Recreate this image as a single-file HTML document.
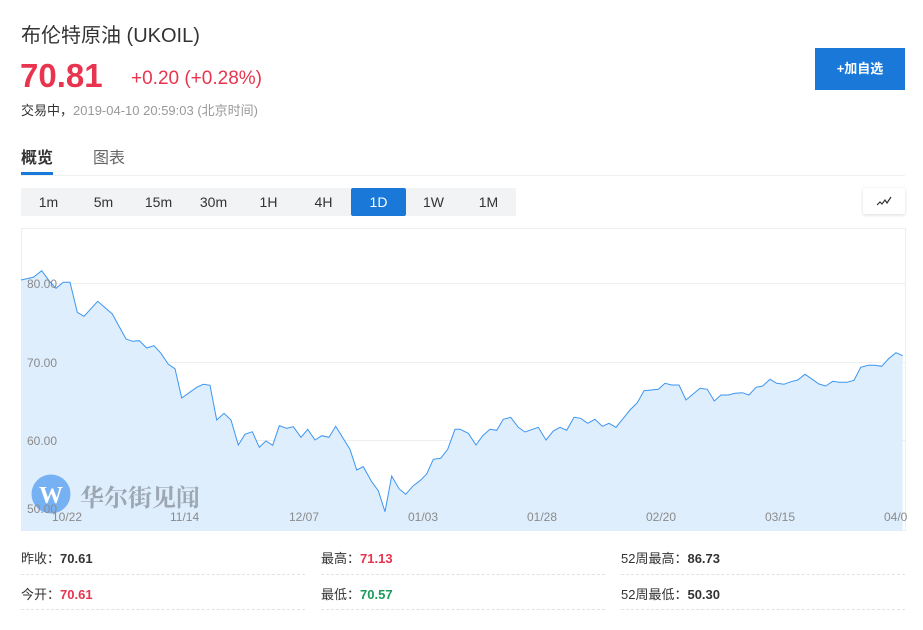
<!DOCTYPE html>
<html><head><meta charset="utf-8">
<style>
*{margin:0;padding:0;box-sizing:border-box}
body{width:923px;height:630px;background:#fff;position:relative;overflow:hidden;font-family:"Liberation Sans","Noto Sans CJK SC",sans-serif;color:#333}
.a{position:absolute;white-space:nowrap}
.tf{position:absolute;top:188px;height:28px;width:55px;background:#f2f3f5;font-size:14px;color:#333;text-align:center;line-height:28px}
.lab{font-size:13px;color:#333}
.lab b{font-weight:bold}
.dash{position:absolute;height:0;border-top:1px dashed #e2e2e2}
</style></head><body>
<div class="a" style="left:21px;top:19px;font-size:20px;color:#333">布伦特原油 (UKOIL)</div>
<div class="a" style="left:20px;top:57px;font-size:33px;font-weight:bold;color:#e8344e">70.81</div>
<div class="a" style="left:131px;top:68px;font-size:19px;color:#e8344e">+0.20 (+0.28%)</div>
<div class="a" style="left:21px;top:100px;font-size:13px;color:#333">交易中，<span style="color:#999">2019-04-10 20:59:03 (北京时间)</span></div>
<div class="a" style="left:815px;top:48px;width:90px;height:42px;background:#1a78d8;color:#fff;font-size:13px;font-weight:bold;text-align:center;line-height:42px">+加自选</div>
<div class="a" style="left:21px;top:144px;font-size:16px;font-weight:bold;color:#333">概览</div>
<div class="a" style="left:93px;top:144px;font-size:16px;color:#666">图表</div>
<div class="a" style="left:21px;top:172px;width:32px;height:3px;background:#1a78d8"></div>
<div class="a" style="left:21px;top:175px;width:884px;height:1px;background:#eef0f2"></div>
<div class="tf" style="left:21px">1m</div>
<div class="tf" style="left:76px">5m</div>
<div class="tf" style="left:131px">15m</div>
<div class="tf" style="left:186px">30m</div>
<div class="tf" style="left:241px">1H</div>
<div class="tf" style="left:296px">4H</div>
<div class="tf" style="left:351px;background:#1a78d8;color:#fff;border-radius:2px">1D</div>
<div class="tf" style="left:406px">1W</div>
<div class="tf" style="left:461px">1M</div>
<div class="a" style="left:863px;top:188px;width:42px;height:26px;background:#fff;box-shadow:0 1px 3px rgba(0,0,0,0.15);border-radius:2px"></div>
<svg class="a" style="left:863px;top:188px" width="42" height="26"><polyline points="14,17 17,14 19,16 22,12 24,15 28,9" fill="none" stroke="#333" stroke-width="1.2"/></svg>

<svg class="a" style="left:0;top:0" width="923" height="540">
<rect x="21.5" y="228.5" width="884" height="302" fill="#fff" stroke="#eceef0"/>
<g stroke="#eceef0" stroke-width="1">
<line x1="21" y1="283.5" x2="905" y2="283.5"/>
<line x1="21" y1="362.5" x2="905" y2="362.5"/>
<line x1="21" y1="440.5" x2="905" y2="440.5"/>
</g>
<polygon fill="#dfeefd" points="21,531 21,280 33.3,277.3 41.7,270.7 49.3,281 56,288.3 63.3,282.3 70,282.3 77.3,312.3 84,316.3 97.7,301.3 112.3,314 126,339 132.7,341.3 139.3,340.7 146.7,348 154,345.7 161,353.3 168.3,364.3 175,368.7 181.7,398 188.3,393.3 196.7,387.3 203.3,384.3 210,385.3 216.7,420 224,413.3 231,420 238.3,445 245,434.3 252.3,431.7 259.3,447.3 266,441 272.7,445.3 279.3,425.7 286.7,428.3 293.3,426.7 301,437.3 307.7,429.3 315,440 321.7,435.7 329,437.3 335.7,426.3 350,449.3 356.7,470 363.3,466.7 371.7,481.7 378.3,490.7 385,511.7 391.7,476 399,488.7 405.7,494.3 413.3,485.7 420,480.7 426.7,474 433.3,459.3 440.7,458.3 447.7,449.3 455,429.3 460,429.3 468.3,433.3 476,445 482.7,435.7 490,429.3 496.7,430.3 503.3,419.3 510.7,417.3 518.3,427.3 525,432 538.3,427.3 546,440 553.3,431 560,427.3 566.7,430.3 574,417.3 580.7,418.3 587.7,423.3 595,419.3 602.3,426.3 609,423.3 616,427.3 623.3,418.3 630,410 637.3,402.7 644,390.7 658.3,389.3 665,383.3 671.7,385 679,385 686,400 700,388.3 707.3,389.3 714.3,401 721,395 728.3,395 735,393.3 742.3,392.7 749,395 756,387.3 762.7,386 770,379.3 776.7,383.3 784,384.3 791,381.7 797.7,380 805,374.3 819,384 825.7,386 832.7,381.3 839.3,382.3 846.7,382.3 854,380.3 860.7,367.3 868.3,365.3 875,365.3 881.7,366.3 889,358.3 896,352.7 902.7,355.7 902.7,531"/>
<polyline fill="none" stroke="#3d96f0" stroke-width="1" points="21,280 33.3,277.3 41.7,270.7 49.3,281 56,288.3 63.3,282.3 70,282.3 77.3,312.3 84,316.3 97.7,301.3 112.3,314 126,339 132.7,341.3 139.3,340.7 146.7,348 154,345.7 161,353.3 168.3,364.3 175,368.7 181.7,398 188.3,393.3 196.7,387.3 203.3,384.3 210,385.3 216.7,420 224,413.3 231,420 238.3,445 245,434.3 252.3,431.7 259.3,447.3 266,441 272.7,445.3 279.3,425.7 286.7,428.3 293.3,426.7 301,437.3 307.7,429.3 315,440 321.7,435.7 329,437.3 335.7,426.3 350,449.3 356.7,470 363.3,466.7 371.7,481.7 378.3,490.7 385,511.7 391.7,476 399,488.7 405.7,494.3 413.3,485.7 420,480.7 426.7,474 433.3,459.3 440.7,458.3 447.7,449.3 455,429.3 460,429.3 468.3,433.3 476,445 482.7,435.7 490,429.3 496.7,430.3 503.3,419.3 510.7,417.3 518.3,427.3 525,432 538.3,427.3 546,440 553.3,431 560,427.3 566.7,430.3 574,417.3 580.7,418.3 587.7,423.3 595,419.3 602.3,426.3 609,423.3 616,427.3 623.3,418.3 630,410 637.3,402.7 644,390.7 658.3,389.3 665,383.3 671.7,385 679,385 686,400 700,388.3 707.3,389.3 714.3,401 721,395 728.3,395 735,393.3 742.3,392.7 749,395 756,387.3 762.7,386 770,379.3 776.7,383.3 784,384.3 791,381.7 797.7,380 805,374.3 819,384 825.7,386 832.7,381.3 839.3,382.3 846.7,382.3 854,380.3 860.7,367.3 868.3,365.3 875,365.3 881.7,366.3 889,358.3 896,352.7 902.7,355.7"/>
<circle cx="51" cy="494" r="19.5" fill="#6aaaf2" opacity="0.9"/>
<text x="51" y="503" font-family="Liberation Serif,serif" font-size="24" font-weight="bold" fill="#fff" text-anchor="middle">W</text>
<text x="80" y="506" font-family="Noto Serif CJK SC,serif" font-size="24" font-weight="bold" fill="#9ca7b2">华尔街见闻</text>
<g font-family="Liberation Sans,sans-serif" font-size="12" fill="#8a8a8a">
<text x="27" y="288">80.00</text>
<text x="27" y="367">70.00</text>
<text x="27" y="445">60.00</text>
<text x="27" y="513">50.00</text>
<text x="52" y="521">10/22</text>
<text x="170" y="521">11/14</text>
<text x="289" y="521">12/07</text>
<text x="408" y="521">01/03</text>
<text x="527" y="521">01/28</text>
<text x="646" y="521">02/20</text>
<text x="765" y="521">03/15</text>
<text x="884" y="521">04/0</text>
</g>
</svg>

<div class="a lab" style="left:21px;top:548px">昨收：<b>70.61</b></div>
<div class="a lab" style="left:321px;top:548px">最高：<b style="color:#e8344e">71.13</b></div>
<div class="a lab" style="left:621px;top:548px">52周最高：<b>86.73</b></div>
<div class="a lab" style="left:21px;top:584px">今开：<b style="color:#e8344e">70.61</b></div>
<div class="a lab" style="left:321px;top:584px">最低：<b style="color:#1a9a5a">70.57</b></div>
<div class="a lab" style="left:621px;top:584px">52周最低：<b>50.30</b></div>
<div class="dash" style="left:21px;top:574px;width:284px"></div>
<div class="dash" style="left:321px;top:574px;width:284px"></div>
<div class="dash" style="left:621px;top:574px;width:284px"></div>
<div class="dash" style="left:21px;top:609px;width:284px"></div>
<div class="dash" style="left:321px;top:609px;width:284px"></div>
<div class="dash" style="left:621px;top:609px;width:284px"></div>
</body></html>
